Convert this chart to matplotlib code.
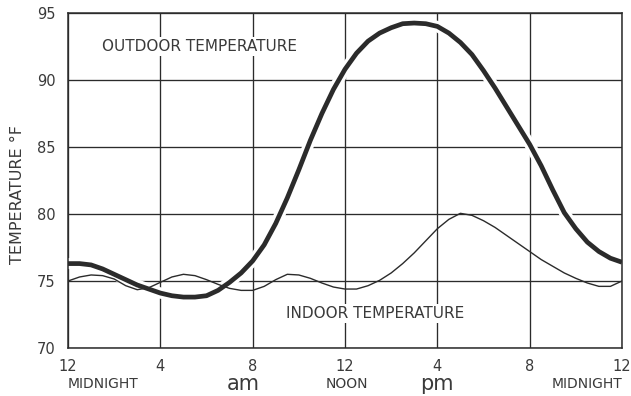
import matplotlib.pyplot as plt

# half-hourly readings over one day, midnight to midnight
hours = [h * 0.5 for h in range(49)]

outdoor = [76.3, 76.3, 76.2, 75.9, 75.5, 75.1, 74.7, 74.4, 74.1, 73.9,
           73.8, 73.8, 73.9, 74.3, 74.9, 75.6, 76.5, 77.7, 79.3, 81.2,
           83.3, 85.5, 87.5, 89.3, 90.8, 92.0, 92.9, 93.5, 93.9, 94.2,
           94.25, 94.2, 94.0, 93.5, 92.8, 91.9, 90.7, 89.4, 88.0, 86.6,
           85.2, 83.6, 81.8, 80.1, 78.9, 77.9, 77.2, 76.7, 76.4]

indoor = [75.0, 75.3, 75.45, 75.4, 75.15, 74.65, 74.35, 74.5, 74.9, 75.3,
          75.5, 75.4, 75.1, 74.75, 74.45, 74.3, 74.3, 74.6, 75.1, 75.5,
          75.45, 75.2, 74.85, 74.55, 74.4, 74.4, 74.65, 75.05, 75.6, 76.3,
          77.1, 78.0, 78.9, 79.6, 80.05, 79.9, 79.5, 79.0, 78.4, 77.8,
          77.2, 76.6, 76.1, 75.6, 75.2, 74.85, 74.6, 74.6, 75.0]

hour_ticks = [0, 4, 8, 12, 16, 20, 24]
hour_labels = ['12', '4', '8', '12', '4', '8', '12']
temp_ticks = [70, 75, 80, 85, 90, 95]

ink = '#2b2b2b'
text_ink = '#3a3a3a'

fig = plt.figure(figsize=(6.31, 3.96), dpi=100)
ax = fig.add_axes([0.1078, 0.1212, 0.8779, 0.846])

ax.set_xlim(0, 24)
ax.set_ylim(70, 95)
ax.set_xticks(hour_ticks)
ax.set_xticklabels(hour_labels)
ax.set_yticks(temp_ticks)
ax.tick_params(length=0, labelsize=10.5, colors=text_ink)
ax.tick_params(axis='y', pad=9)
ax.tick_params(axis='x', pad=8)

for s in ax.spines.values():
    s.set_color(ink)
    s.set_linewidth(1.1)

ax.grid(True, color=ink, linewidth=0.95)
ax.set_axisbelow(True)

# white band under the heavy curve so the grid breaks where it passes
ax.plot(hours, outdoor, color='white', linewidth=8, solid_joinstyle='round',
        zorder=2.2)
ax.plot(hours, indoor, color=ink, linewidth=1.0, solid_joinstyle='round',
        zorder=3)
ax.plot(hours, outdoor, color=ink, linewidth=3.4, solid_joinstyle='round',
        solid_capstyle='butt', zorder=4)

label_box = dict(facecolor='white', edgecolor='none', pad=1.5)
ax.text(5.7, 92.5, 'OUTDOOR TEMPERATURE', fontsize=11, color=text_ink,
        ha='center', va='center', bbox=label_box, zorder=5)
ax.text(13.3, 72.6, 'INDOOR TEMPERATURE', fontsize=11, color=text_ink,
        ha='center', va='center', bbox=label_box, zorder=5)

ax.set_ylabel('TEMPERATURE °F', fontsize=11.5, color=text_ink)
ax.yaxis.set_label_coords(-0.078, 0.457)

# second row under the hour labels
row = -0.107
xt = ax.get_xaxis_transform()
ax.text(0, row, 'MIDNIGHT', transform=xt, fontsize=10, color=text_ink,
        ha='left', va='center')
ax.text(12.1, row, 'NOON', transform=xt, fontsize=10, color=text_ink,
        ha='center', va='center')
ax.text(24, row, 'MIDNIGHT', transform=xt, fontsize=10, color=text_ink,
        ha='right', va='center')
ax.text(7.6, -0.1254, 'am', transform=xt, fontsize=15, color=text_ink,
        ha='center', va='baseline')
ax.text(16.0, -0.1254, 'pm', transform=xt, fontsize=15, color=text_ink,
        ha='center', va='baseline')

fig.savefig('out.png', dpi=100, facecolor='white')
